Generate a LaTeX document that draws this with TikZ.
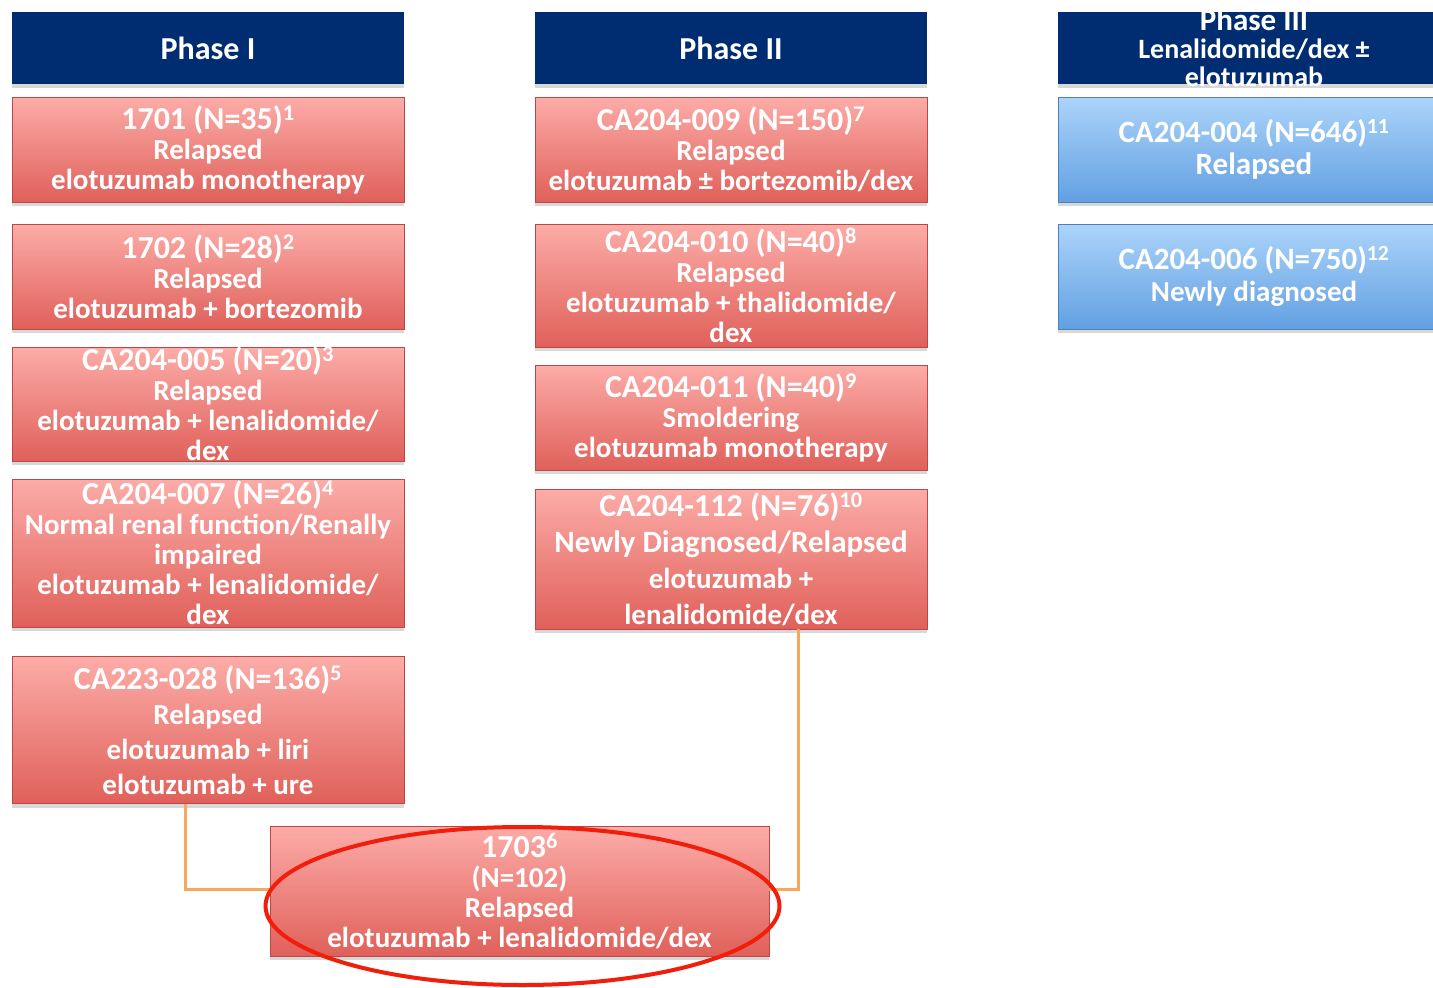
\documentclass[tikz,border=0pt]{standalone}
\usepackage{fontspec}
\setmainfont{Carlito}
\usepackage{xcolor}
\usetikzlibrary{positioning,shadows,calc}
\definecolor{navy}{RGB}{0,45,114}
\definecolor{redtop}{RGB}{252,172,168}
\definecolor{redbot}{RGB}{224,96,90}
\definecolor{redline}{RGB}{185,72,70}
\definecolor{bluetop}{RGB}{172,212,250}
\definecolor{bluebot}{RGB}{98,160,226}
\definecolor{blueline}{RGB}{78,128,188}
\definecolor{linkorange}{RGB}{247,168,92}
\definecolor{ringred}{RGB}{240,30,10}
\newcommand{\refno}[1]{\textsuperscript{#1}}
\newcommand{\lead}[1]{{\fontsize{32}{30}\selectfont #1}}
\tikzset{
  head/.style={fill=navy, text=white, minimum width=392pt, minimum height=72pt, inner sep=0pt,
    align=center, font=\bfseries\fontsize{32}{30}\selectfont,
    drop shadow={opacity=0.3, shadow xshift=0pt, shadow yshift=-4pt}},
  trial/.style={draw=redline, top color=redtop, bottom color=redbot, text=white,
    minimum width=392pt, inner sep=0pt, align=center,
    font=\bfseries\fontsize{29}{30}\selectfont,
    drop shadow={opacity=0.3, shadow xshift=0pt, shadow yshift=-4pt}},
  trialb/.style={trial, draw=blueline, top color=bluetop, bottom color=bluebot},
  link/.style={draw=linkorange, line width=3pt},
  ring/.style={draw=ringred, line width=4pt},
}
\begin{document}
\begin{tikzpicture}[x=1pt, y=-1pt]
  \path[use as bounding box, fill=white] (0,0) rectangle (1433,988);
  % headers
  \node[head] (ph1) at (208,48) {Phase I};
  \node[head] (ph2) at (731,48) {Phase II};
  \node[head, inner ysep=-7pt, font=\bfseries\fontsize{28}{28}\selectfont] (ph3) at (1254,48) {{\fontsize{31}{28}\selectfont Phase III}\\Lenalidomide/dex ±\\elotuzumab};
  % phase I
  \node[trial, minimum height=105pt] (t1701) at (208,149.5) {\lead{1701 (N=35)\refno{1}}\\Relapsed\\elotuzumab monotherapy};
  \node[trial, minimum height=105pt] (t1702) at (208,276.5) {\lead{1702 (N=28)\refno{2}}\\Relapsed\\elotuzumab + bortezomib};
  \node[trial, minimum height=106pt] (t005) at (208,404) {\lead{CA204-005 (N=20)\refno{3}}\\Relapsed\\elotuzumab + lenalidomide/\\dex};
  \node[trial, minimum height=148pt] (t007) at (208,553) {\lead{CA204-007 (N=26)\refno{4}}\\Normal renal function/Renally\\impaired\\elotuzumab + lenalidomide/\\dex};
  \node[trial, minimum height=147pt, font=\bfseries\fontsize{29}{35}\selectfont] (t028) at (208,730) {\lead{CA223-028 (N=136)\refno{5}}\\Relapsed\\elotuzumab + liri\\elotuzumab + ure};
  % phase II
  \node[trial, minimum height=105pt] (t009) at (731,149.5) {\lead{CA204-009 (N=150)\refno{7}}\\Relapsed\\elotuzumab ± bortezomib/dex};
  \node[trial, minimum height=123pt] (t010) at (731,285.5) {\lead{CA204-010 (N=40)\refno{8}}\\Relapsed\\elotuzumab + thalidomide/\\dex};
  \node[trial, minimum height=105pt] (t011) at (731,417.5) {\lead{CA204-011 (N=40)\refno{9}}\\Smoldering\\elotuzumab monotherapy};
  \node[trial, minimum height=140pt, font=\bfseries\fontsize{29}{36}\selectfont] (t112) at (731,559) {\lead{CA204-112 (N=76)\refno{10}}\\{\fontsize{31}{36}\selectfont Newly Diagnosed/Relapsed}\\elotuzumab +\\lenalidomide/dex};
  % phase III
  \node[trialb, minimum height=105pt, font=\bfseries\fontsize{31}{32}\selectfont] (t004) at (1254,149.5) {CA204-004 (N=646)\refno{11}\\Relapsed};
  \node[trialb, minimum height=105pt, font=\bfseries\fontsize{29}{32}\selectfont] (t006) at (1254,276.5) {{\fontsize{31}{32}\selectfont CA204-006 (N=750)\refno{12}}\\Newly diagnosed};
  % combined study
  \node[trial, minimum width=499pt, minimum height=130pt] (t1703) at (519.5,891) {\lead{1703\refno{6}}\\(N=102)\\Relapsed\\elotuzumab + lenalidomide/dex};
  \draw[link] ([xshift=-23pt]t028.south) |- ([yshift=2pt]t1703.west);
  \draw[link] ([xshift=67pt]t112.south) |- ([yshift=2pt]t1703.east);
  \draw[ring] ([shift={(3,15)}]t1703.center) ellipse [x radius=257pt, y radius=79pt];
\end{tikzpicture}
\end{document}
